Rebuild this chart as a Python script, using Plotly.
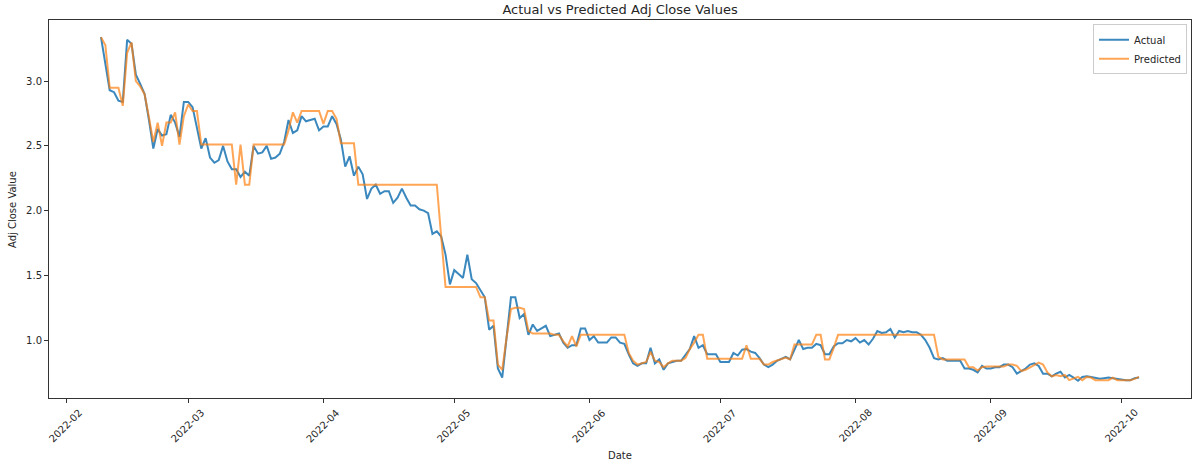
import pandas as pd
import plotly.graph_objects as go

start_date = "2022-02-09"

actual = [
    3.34, 3.13, 2.93, 2.915, 2.85, 2.84, 3.32, 3.29, 3.05, 2.98, 2.90, 2.70, 2.48, 2.63, 2.58, 2.59, 2.74, 2.68, 2.57, 2.84,
    2.84, 2.80, 2.65, 2.48, 2.56, 2.41, 2.37, 2.39, 2.50, 2.38, 2.32, 2.32, 2.26, 2.30, 2.27, 2.50, 2.44, 2.45, 2.50, 2.40,
    2.41, 2.44, 2.53, 2.70, 2.60, 2.62, 2.73, 2.69, 2.70, 2.71, 2.62, 2.65, 2.65, 2.73, 2.67, 2.55, 2.34, 2.42, 2.27, 2.34,
    2.28, 2.09, 2.17, 2.20, 2.13, 2.15, 2.15, 2.06, 2.10, 2.17, 2.10, 2.04, 2.04, 2.01, 2.00, 1.98, 1.82, 1.84, 1.80, 1.66,
    1.43, 1.54, 1.51, 1.48, 1.66, 1.47, 1.44, 1.38, 1.33, 1.08, 1.11, 0.78, 0.71, 1.02, 1.33, 1.33, 1.17, 1.20, 1.04, 1.12,
    1.07, 1.09, 1.11, 1.03, 1.04, 1.05, 0.98, 0.94, 0.96, 0.96, 1.09, 1.09, 1.00, 1.03, 0.98, 0.98, 0.98, 1.02, 1.02, 0.98,
    0.97, 0.89, 0.82, 0.80, 0.82, 0.82, 0.94, 0.82, 0.85, 0.77, 0.82, 0.83, 0.84, 0.84, 0.89, 0.93, 1.03, 0.94, 0.96, 0.89,
    0.89, 0.89, 0.83, 0.83, 0.83, 0.90, 0.88, 0.925, 0.93, 0.91, 0.90, 0.86, 0.81, 0.79, 0.81, 0.84, 0.855, 0.87, 0.85, 0.92,
    1.00, 0.93, 0.94, 0.94, 0.97, 0.96, 0.89, 0.89, 0.95, 0.975, 0.975, 1.00, 0.99, 1.015, 0.98, 1.00, 0.965, 1.01, 1.07, 1.055,
    1.06, 1.085, 1.02, 1.07, 1.06, 1.07, 1.06, 1.06, 1.04, 1.00, 0.94, 0.86, 0.85, 0.86, 0.84, 0.84, 0.84, 0.84, 0.78, 0.78,
    0.77, 0.75, 0.80, 0.78, 0.78, 0.79, 0.79, 0.81, 0.81, 0.79, 0.74, 0.76, 0.78, 0.81, 0.82, 0.80, 0.74, 0.74, 0.72, 0.74,
    0.755, 0.71, 0.73, 0.71, 0.685, 0.715, 0.72, 0.715, 0.705, 0.70, 0.705, 0.71, 0.705, 0.70, 0.69, 0.69, 0.69, 0.705, 0.71,
]

predicted = [
    3.34, 3.28, 2.95, 2.95, 2.95, 2.81, 3.22, 3.30, 3.00, 2.96, 2.90, 2.72, 2.53, 2.68, 2.50, 2.68, 2.68, 2.76, 2.51, 2.73,
    2.82, 2.77, 2.77, 2.51, 2.51, 2.51, 2.51, 2.51, 2.51, 2.51, 2.51, 2.20, 2.51, 2.20, 2.20, 2.51, 2.51, 2.51, 2.51, 2.51,
    2.51, 2.51, 2.51, 2.62, 2.76, 2.68, 2.77, 2.77, 2.77, 2.77, 2.77, 2.67, 2.77, 2.77, 2.71, 2.52, 2.52, 2.52, 2.52, 2.20,
    2.20, 2.20, 2.20, 2.20, 2.20, 2.20, 2.20, 2.20, 2.20, 2.20, 2.20, 2.20, 2.20, 2.20, 2.20, 2.20, 2.20, 2.20, 1.80, 1.41,
    1.41, 1.41, 1.41, 1.41, 1.41, 1.41, 1.41, 1.33, 1.33, 1.15, 1.15, 0.81, 0.77, 1.02, 1.24, 1.25, 1.25, 1.24, 1.07, 1.05,
    1.05, 1.05, 1.05, 1.05, 1.04, 1.04, 0.99, 0.95, 1.03, 0.95, 1.04, 1.04, 1.04, 1.04, 1.04, 1.04, 1.04, 1.04, 1.04, 1.04,
    1.04, 0.90, 0.84, 0.81, 0.82, 0.83, 0.91, 0.84, 0.83, 0.79, 0.82, 0.84, 0.84, 0.84, 0.86, 0.93, 0.98, 1.04, 1.04, 0.855,
    0.855, 0.855, 0.855, 0.855, 0.855, 0.855, 0.855, 0.855, 0.96, 0.855, 0.855, 0.855, 0.81, 0.81, 0.83, 0.84, 0.855, 0.865, 0.85, 0.965,
    0.965, 0.965, 0.965, 0.965, 1.04, 1.04, 0.85, 0.85, 0.94, 1.04, 1.04, 1.04, 1.04, 1.04, 1.04, 1.04, 1.04, 1.04, 1.04, 1.04,
    1.04, 1.04, 1.04, 1.04, 1.04, 1.04, 1.04, 1.04, 1.04, 1.04, 1.04, 1.04, 0.87, 0.85, 0.85, 0.85, 0.85, 0.85, 0.85, 0.79,
    0.79, 0.765, 0.79, 0.795, 0.795, 0.795, 0.795, 0.795, 0.81, 0.81, 0.80, 0.76, 0.77, 0.79, 0.81, 0.825, 0.81, 0.75, 0.72, 0.73,
    0.72, 0.73, 0.69, 0.70, 0.715, 0.69, 0.715, 0.71, 0.69, 0.69, 0.69, 0.69, 0.71, 0.69, 0.69, 0.69, 0.69, 0.70, 0.715, 0.675,
]

month_ticks = ["2022-02-01", "2022-03-01", "2022-04-01", "2022-05-01", "2022-06-01",
               "2022-07-01", "2022-08-01", "2022-09-01", "2022-10-01"]
month_labels = ["2022-02", "2022-03", "2022-04", "2022-05", "2022-06",
                "2022-07", "2022-08", "2022-09", "2022-10"]
y_ticks = [1.0, 1.5, 2.0, 2.5, 3.0]
y_labels = ["1.0", "1.5", "2.0", "2.5", "3.0"]

dates = pd.date_range(start_date, periods=len(actual), freq="D")

FONT = "DejaVu Sans"
TXT = "#262626"

fig = go.Figure()
fig.add_trace(go.Scatter(x=dates, y=actual, mode="lines", name="Actual",
                         line=dict(color="rgba(31,119,180,0.88)", width=2)))
fig.add_trace(go.Scatter(x=dates, y=predicted, mode="lines", name="Predicted",
                         line=dict(color="rgba(255,127,14,0.7)", width=2)))

annotations = []
for t, lab in zip(month_ticks, month_labels):
    annotations.append(dict(x=t, xref="x", y=-0.074, yref="paper", text=lab,
                            showarrow=False, textangle=-45, xanchor="center", yanchor="middle",
                            font=dict(family=FONT, size=10, color=TXT)))
annotations.append(dict(x=0.5, xref="paper", y=-0.151, yref="paper", text="Date",
                        showarrow=False, xanchor="center", yanchor="middle",
                        font=dict(family=FONT, size=10, color=TXT)))
annotations.append(dict(x=-0.0324, xref="paper", y=0.5, yref="paper", text="Adj Close Value",
                        showarrow=False, textangle=-90, xanchor="center", yanchor="middle",
                        font=dict(family=FONT, size=10, color=TXT)))

fig.update_layout(
    width=1200, height=468,
    margin=dict(l=49, r=9, t=20, b=70, autoexpand=False),
    paper_bgcolor="white", plot_bgcolor="white",
    title=dict(text="Actual vs Predicted Adj Close Values", x=0.5167, xanchor="center",
               y=0.98, yanchor="middle", font=dict(family=FONT, size=13, color=TXT)),
    font=dict(family=FONT, size=10, color=TXT),
    showlegend=True,
    legend=dict(x=0.9965, y=0.989, xanchor="right", yanchor="top",
                bgcolor="rgba(255,255,255,0.8)", bordercolor="#cccccc", borderwidth=1,
                font=dict(family=FONT, size=10, color=TXT), tracegroupgap=0, itemwidth=30),
    annotations=annotations,
    xaxis=dict(type="date", range=["2022-01-28 02:00", "2022-10-16 22:00"], automargin=False,
               tickvals=month_ticks, showticklabels=False, ticks="outside", ticklen=4,
               tickcolor="#333333", showgrid=False, zeroline=False,
               showline=True, linecolor="#333333", linewidth=1, mirror=True),
    yaxis=dict(range=[0.552, 3.473], tickvals=y_ticks, ticktext=y_labels, automargin=False,
               ticks="outside", ticklen=4, tickcolor="#333333",
               tickfont=dict(family=FONT, size=10, color=TXT),
               showgrid=False, zeroline=False,
               showline=True, linecolor="#333333", linewidth=1, mirror=True),
)

fig.write_html("out.html", config={"displayModeBar": False},
               post_script="document.body.style.margin='0';document.body.style.overflow='hidden';")
